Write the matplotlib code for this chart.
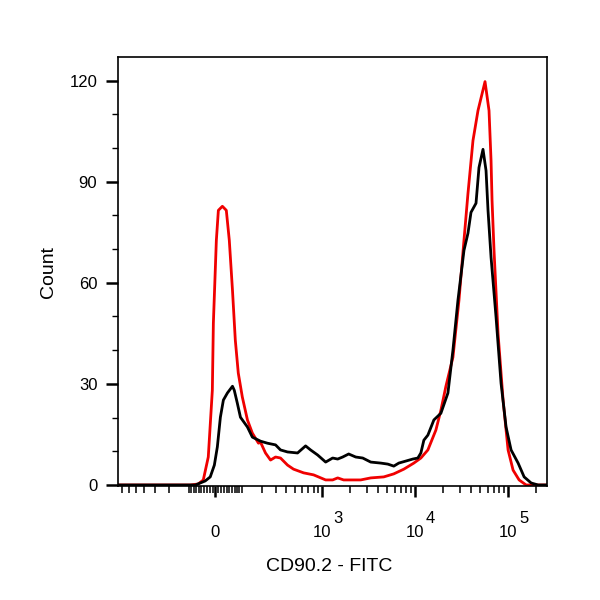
import matplotlib
matplotlib.use('Agg')
import matplotlib.pyplot as plt
from matplotlib.ticker import FixedLocator, NullFormatter, MultipleLocator

plt.rcParams['font.family'] = ['Liberation Sans', 'DejaVu Sans']

# CD90.2 - FITC histogram, red sample
red_x = [-780, -94, -62, -43, -25, -10.6, -7, 3.5, 10.6, 24.8, 39, 50, 62, 73, 85, 102, 125, 149, 182, 194,
         225, 260, 299, 342, 412, 481, 623, 802, 1084, 1291, 1463, 1697, 2590, 3322, 4589, 5880, 7540, 9656,
         11495, 13675, 16670, 18880, 21370, 25420, 29510, 33400, 36880, 41750, 47260, 56250, 62110, 65290,
         66940, 70290, 77670, 87960, 99540, 112700, 130800, 155500, 262144]
red_count = [0, 0, 0.3, 1.5, 8.3, 28.1, 48.0, 72.6, 81.5, 82.7, 81.5, 72.6, 57.8, 43.0, 33.2, 26.1, 19.3, 15.4, 12.4, 12.7,
             9.5, 7.4, 8.3, 8.0, 5.9, 4.7, 3.6, 3.0, 1.5, 1.5, 2.1, 1.5, 1.5, 2.1, 2.4, 3.3, 4.7, 6.5,
             8.0, 10.4, 16.3, 22.2, 29.3, 37.9, 54.8, 72.6, 86.5, 102.2, 111.1, 119.7, 111.1, 96.3,
             84.4, 69.6, 44.9, 25.2, 10.4, 4.4, 1.5, 0, 0]

# black sample
black_x = [-780, -73, -36, -18, -3.5, 7, 17.7, 28.4, 43, 62, 69, 81, 94, 125, 149, 194, 238, 299, 342, 412,
           534, 655, 743, 887, 1084, 1291, 1463, 1656, 1923, 2289, 2724, 3322, 4258, 5067, 5880, 6657, 7924,
           9422, 10664, 11495, 12380, 13675, 15861, 18880, 22464, 25420, 28780, 33400, 36880, 39750, 45000,
           48450, 53500, 57680, 60580, 65290, 73900, 83640, 94710, 107200, 127600, 148100, 176100, 209500, 262144]
black_count = [0, 0, 1.2, 2.4, 5.9, 11.3, 20.1, 25.2, 27.3, 29.3, 28.1, 24.3, 20.1, 17.2, 14.2, 13.0, 12.4, 11.9, 10.4, 9.8,
               9.5, 11.6, 10.4, 8.9, 6.8, 8.0, 7.7, 8.3, 9.2, 8.3, 8.0, 6.8, 6.5, 6.2, 5.6, 6.5, 7.1,
               7.7, 8.0, 9.5, 13.3, 14.8, 19.3, 21.3, 27.3, 40.0, 54.8, 69.6, 74.7, 80.9, 83.6,
               94.2, 99.6, 93.3, 81.5, 67.6, 49.8, 30.2, 17.2, 10.4, 6.5, 2.4, 0.6, 0, 0]

x_major = [0, 1e3, 1e4, 1e5]
x_major_labels = ['0', '10', '10', '10']
x_exponents = ['3', '4', '5']
y_major = [0, 30, 60, 90, 120]

# minor ticks of the biexponential axis
x_minor = [s * m * 10 ** k for k in (1, 2) for m in range(1, 10) for s in (-1, 1)]
x_minor += [m * 10 ** k for k in (3, 4, 5) for m in range(2, 10)]
x_minor = [v for v in x_minor if -780 < v < 262144]

fig = plt.figure(figsize=(6, 6), dpi=100)
ax = fig.add_axes([0.197, 0.19, 0.715, 0.715])

ax.plot(red_x, red_count, color='#f00000', lw=2.0)
ax.plot(black_x, black_count, color='black', lw=2.0)

ax.set_xscale('asinh', linear_width=142)
ax.set_xlim(-780, 262144)
ax.set_ylim(-0.3, 127)

ax.xaxis.set_major_locator(FixedLocator(x_major))
ax.set_xticklabels(x_major_labels)
ax.xaxis.set_minor_locator(FixedLocator(x_minor))
ax.xaxis.set_minor_formatter(NullFormatter())
ax.set_yticks(y_major)
ax.yaxis.set_minor_locator(MultipleLocator(10))

ax.tick_params(axis='x', which='major', length=8, width=1.8, pad=20, labelsize=12)
ax.tick_params(axis='x', which='minor', length=5, width=1.1)
ax.tick_params(axis='y', which='major', length=9, width=1.8, pad=6, labelsize=12)
ax.tick_params(axis='y', which='minor', length=4.5, width=1.0)

for k, e in zip(x_major[1:], x_exponents):
    ax.annotate(e, xy=(k, 0), xycoords=('data', 'axes fraction'),
                xytext=(11, -23.5), textcoords='offset points',
                ha='center', va='center', fontsize=12)

for s in ax.spines.values():
    s.set_linewidth(1.2)

ax.set_xlabel('CD90.2 - FITC', fontsize=14)
ax.set_ylabel('Count', fontsize=14)
ax.xaxis.set_label_coords(0.492, -0.168)
ax.yaxis.set_label_coords(-0.142, 0.5)

plt.savefig('out.png', dpi=100)
